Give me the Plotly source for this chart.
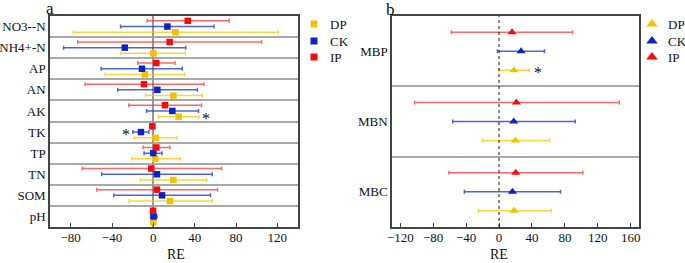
import plotly.graph_objects as go

# ---------------- Panel a data ----------------
cats_a = ["NO3--N", "NH4+-N", "AP", "AN", "AK", "TK", "TP", "TN", "SOM", "pH"]
ip_a = [33.3, 15.8, 2.9, -9.1, 11.3, -1.0, 2.9, -2.0, 3.5, -0.3]
ip_a_lo = [-5.8, -73.2, -15.0, -66.0, -23.7, -1.0, -10.0, -68.6, -54.8, -0.3]
ip_a_hi = [73.4, 104.8, 21.0, 49.0, 46.6, -1.0, 16.1, 66.0, 62.1, -0.3]
ck_a = [13.6, -27.6, -11.0, 3.9, 18.4, -12.0, 0.0, 3.5, 8.4, 0.3]
ck_a_lo = [-31.7, -86.8, -50.5, -34.4, -6.5, -19.8, -9.0, -49.9, -38.2, -2.6]
ck_a_hi = [58.8, 31.4, 28.0, 42.7, 43.7, -4.3, 8.4, 57.0, 55.3, 3.5]
dp_a = [21.4, 0.0, -8.1, 19.4, 24.6, 2.2, 1.9, 19.4, 16.1, 0.0]
dp_a_lo = [-77.4, -31.4, -46.6, -7.5, 5.1, -18.4, -20.8, -12.6, -23.3, 0.0]
dp_a_hi = [121.0, 31.0, 30.4, 47.2, 44.3, 23.0, 26.2, 51.5, 56.9, 0.0]

# ---------------- Panel b data ----------------
cats_b = ["MBP", "MBN", "MBC"]
ip_b = [15.8, 21.1, 20.3]
ip_b_lo = [-57.9, -102.6, -60.8]
ip_b_hi = [89.3, 146.0, 101.8]
ck_b = [26.8, 17.9, 16.3]
ck_b_lo = [-2.0, -56.3, -42.1]
ck_b_hi = [55.2, 92.5, 74.7]
dp_b = [18.2, 19.9, 18.2]
dp_b_lo = [0.0, -19.8, -25.0]
dp_b_hi = [36.5, 61.3, 63.3]

series_names = ["DP", "CK", "IP"]
xticks_a = [-80, -40, 0, 40, 80, 120]
xticks_b = [-120, -80, -40, 0, 40, 80, 120, 160]
x_title = "RE"

C_DP, C_CK, C_IP = "#F2C200", "#0A22C8", "#F80A0A"
E_DP, E_CK, E_IP = "rgba(245,200,0,0.75)", "rgba(20,50,210,0.75)", "rgba(250,40,40,0.7)"
COLORS = [C_DP, C_CK, C_IP]
FONT = "Liberation Serif"
OFF = 0.27
W, H = 685, 263

def pos(cats):
    n = len(cats)
    return [n - 1 - i for i in range(n)]

fig = go.Figure()

def add_series(cats, vals, lo, hi, shift, color, ecolor, name, symbol, size, xa, ya):
    ys = [p + shift for p in pos(cats)]
    fig.add_trace(go.Scatter(
        x=vals, y=ys, mode="markers", name=name, showlegend=False,
        marker=dict(color=color, symbol=symbol, size=size, line=dict(width=0)),
        error_x=dict(type="data", symmetric=False,
                     array=[h - v for h, v in zip(hi, vals)],
                     arrayminus=[v - l for v, l in zip(vals, lo)],
                     color=ecolor, thickness=1.5, width=2),
        xaxis=xa, yaxis=ya))

for vals, lo, hi, shift, c, e, nm in [
        (dp_a, dp_a_lo, dp_a_hi, -OFF, C_DP, E_DP, "DP"),
        (ck_a, ck_a_lo, ck_a_hi, 0, C_CK, E_CK, "CK"),
        (ip_a, ip_a_lo, ip_a_hi, OFF, C_IP, E_IP, "IP")]:
    add_series(cats_a, vals, lo, hi, shift, c, e, nm, "square", 6.5, "x", "y")

for vals, lo, hi, shift, c, e, nm in [
        (dp_b, dp_b_lo, dp_b_hi, -OFF, C_DP, E_DP, "DP"),
        (ck_b, ck_b_lo, ck_b_hi, 0, C_CK, E_CK, "CK"),
        (ip_b, ip_b_lo, ip_b_hi, OFF, C_IP, E_IP, "IP")]:
    add_series(cats_b, vals, lo, hi, shift, c, e, nm, "triangle-up", 8, "x2", "y2")

# ---- manual legends on a hidden full-figure pixel overlay ----
leg_y = [24, 41, 57]
for lx, sym, sz in [(314, "square", 7), (652, "triangle-up", 10)]:
    fig.add_trace(go.Scatter(
        x=[lx] * 3, y=leg_y, mode="markers", showlegend=False, hoverinfo="skip",
        marker=dict(color=COLORS, symbol=sym, size=sz, line=dict(width=0)),
        xaxis="x3", yaxis="y3", cliponaxis=False))
    for nm, yy in zip(series_names, leg_y):
        fig.add_annotation(x=lx + 14, y=yy, xref="x3", yref="y3", text=nm,
                           showarrow=False, xanchor="left", yanchor="middle",
                           font=dict(family=FONT, size=13, color="#111"))

axis_common = dict(showline=True, linecolor="#444", linewidth=1.5, mirror=True,
                   automargin=False,
                   tickfont=dict(family=FONT, size=13, color="#111"))

fig.update_layout(
    width=W, height=H, margin=dict(l=0, r=0, t=0, b=0, autoexpand=False),
    plot_bgcolor="rgba(0,0,0,0)", paper_bgcolor="white",
    font=dict(family=FONT, size=13, color="#111"),
    showlegend=False,
    xaxis=dict(domain=[50 / W, 298 / W], range=[-100, 140], tickvals=xticks_a,
               ticks="inside", ticklen=4, tickcolor="#444", showgrid=False,
               zeroline=True, zerolinecolor="#999", zerolinewidth=1.5,
               ticklabelstandoff=-2, anchor="y", **axis_common),
    yaxis=dict(domain=[1 - 227 / H, 1 - 16 / H], range=[-0.5, len(cats_a) - 0.5],
               tickvals=pos(cats_a), ticktext=cats_a, ticks="", showgrid=False,
               zeroline=False, anchor="x",
               minor=dict(tickmode="linear", tick0=0.5, dtick=1, showgrid=True,
                          gridcolor="#A8A8A8", gridwidth=1.5, ticks=""),
               **axis_common),
    xaxis2=dict(domain=[392 / W, 639 / W], range=[-130, 170], tickvals=xticks_b,
                ticks="inside", ticklen=4, tickcolor="#444", showgrid=False,
                zeroline=False, ticklabelstandoff=-2,
                anchor="y2", **axis_common),
    yaxis2=dict(domain=[1 - 227 / H, 1 - 16 / H], range=[-0.5, len(cats_b) - 0.5],
                tickvals=pos(cats_b), ticktext=cats_b, ticks="", showgrid=False,
                zeroline=False, anchor="x2",
                minor=dict(tickmode="linear", tick0=0.5, dtick=1, showgrid=True,
                           gridcolor="#A8A8A8", gridwidth=1.5, ticks=""),
                **axis_common),
    xaxis3=dict(domain=[0, 1], range=[0, W], visible=False, fixedrange=True,
                anchor="y3"),
    yaxis3=dict(domain=[0, 1], range=[H, 0], visible=False, fixedrange=True,
                anchor="x3"),
)

# x-axis titles
fig.add_annotation(x=0.51, y=H, xref="x domain", yref="y3", text=x_title,
                   showarrow=False, xanchor="center", yanchor="bottom", borderpad=0,
                   font=dict(family=FONT, size=14, color="#111"))
fig.add_annotation(x=0, y=H, xref="x2", yref="y3", text=x_title,
                   showarrow=False, xanchor="center", yanchor="bottom", borderpad=0,
                   font=dict(family=FONT, size=14, color="#111"))

# dashed zero line in panel b
fig.add_shape(type="line", xref="x2", yref="y2 domain", x0=0, x1=0, y0=0, y1=1,
              line=dict(color="#111", width=1, dash="3px,3px"))

# significance asterisks
ya = pos(cats_a)
yb = pos(cats_b)
ak = cats_a.index("AK")
tk = cats_a.index("TK")
fig.add_annotation(x=dp_a_hi[ak], y=ya[ak] - OFF, xref="x", yref="y", text="*",
                   showarrow=False, xanchor="left", xshift=1, yshift=-2,
                   font=dict(family=FONT, size=16))
fig.add_annotation(x=ck_a_lo[tk], y=ya[tk], xref="x", yref="y", text="*",
                   showarrow=False, xanchor="right", xshift=-1, yshift=-2,
                   font=dict(family=FONT, size=16))
fig.add_annotation(x=dp_b_hi[0], y=yb[0] - OFF, xref="x2", yref="y2", text="*",
                   showarrow=False, xanchor="left", xshift=3, yshift=-2,
                   font=dict(family=FONT, size=16))

# panel labels
fig.add_annotation(x=50, y=8, xref="x3", yref="y3", text="a",
                   showarrow=False, xanchor="center", yanchor="middle",
                   font=dict(family=FONT, size=17))
fig.add_annotation(x=390, y=9, xref="x3", yref="y3", text="b",
                   showarrow=False, xanchor="center", yanchor="middle",
                   font=dict(family=FONT, size=17))

fig.write_html("out.html", config={"displayModeBar": False},
               post_script="document.body.style.margin='0';")
